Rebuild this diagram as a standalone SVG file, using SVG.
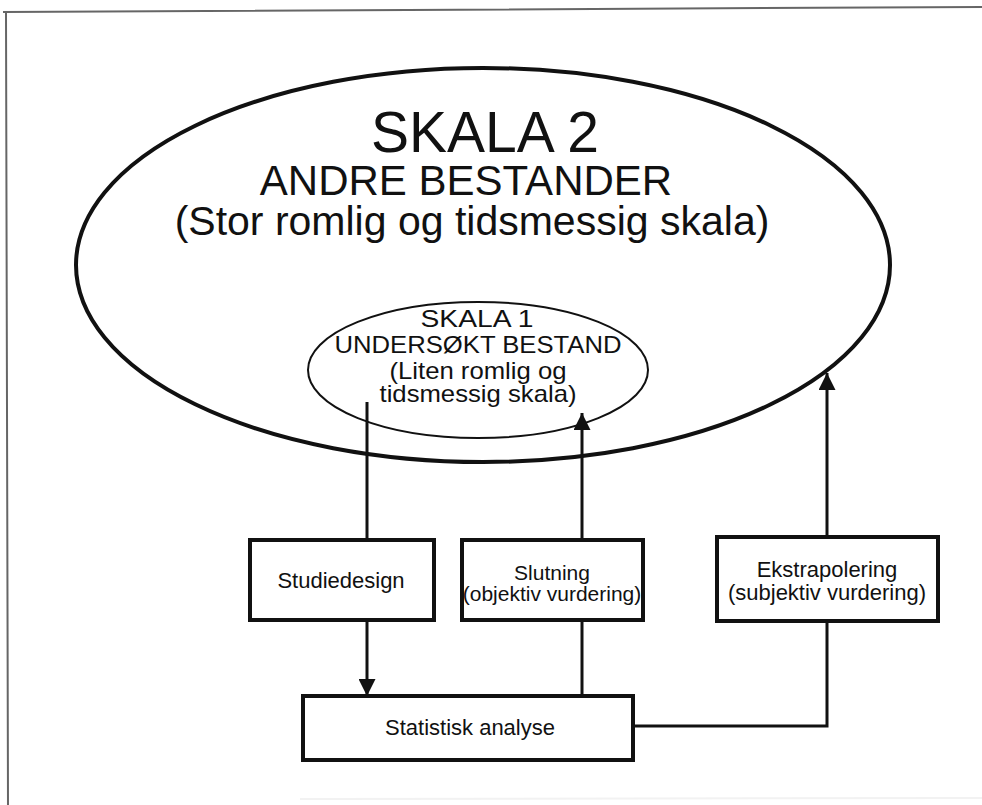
<svg xmlns="http://www.w3.org/2000/svg" width="982" height="805" viewBox="0 0 982 805">
<style>
text{font-family:"Liberation Sans",Arial,sans-serif;fill:#111;text-anchor:middle}
.box{fill:#fff;stroke:#111;stroke-width:4}
.ln{fill:none;stroke:#111;stroke-width:3}
.frame{fill:none;stroke:#666;stroke-width:2}
.s1{font-size:24px}
</style>
<defs>
<marker id="ah" viewBox="0 0 10 10" refX="10" refY="5" markerWidth="20" markerHeight="17" markerUnits="userSpaceOnUse" orient="auto">
<path d="M0,0 L10,5 L0,10 Z" fill="#111"/>
</marker>
</defs>
<rect width="982" height="805" fill="#fff"/>
<path class="frame" d="M3,12 L982,7 M6,12 L8,805"/>
<path d="M300,799 L982,798" stroke="#f2f2f2" stroke-width="2" fill="none"/>

<g id="skala2">
<ellipse cx="483" cy="265" rx="407" ry="197" fill="none" stroke="#111" stroke-width="4"/>
<text x="485" y="152" font-size="57">SKALA 2</text>
<text x="466" y="195" font-size="42">ANDRE BESTANDER</text>
<text x="472" y="235" font-size="41">(Stor romlig og tidsmessig skala)</text>
</g>

<g id="skala1">
<ellipse cx="478" cy="370" rx="170" ry="68" fill="none" stroke="#111" stroke-width="2"/>
<text class="s1" x="477" y="327" textLength="113" lengthAdjust="spacingAndGlyphs">SKALA 1</text>
<text class="s1" x="478" y="353" textLength="287" lengthAdjust="spacingAndGlyphs">UNDERSØKT BESTAND</text>
<text class="s1" x="478" y="379" textLength="177" lengthAdjust="spacingAndGlyphs">(Liten romlig og</text>
<text class="s1" x="478" y="402" textLength="197" lengthAdjust="spacingAndGlyphs">tidsmessig skala)</text>
</g>

<g id="connectors">
<line class="ln" x1="367" y1="402" x2="367" y2="540"/>
<line class="ln" x1="367" y1="620" x2="367" y2="696" marker-end="url(#ah)"/>
<line class="ln" x1="582" y1="696" x2="582" y2="620"/>
<line class="ln" x1="582" y1="540" x2="582" y2="413" marker-end="url(#ah)"/>
<polyline class="ln" points="633,726 827,726 827,621"/>
<line class="ln" x1="827" y1="537" x2="827" y2="373" marker-end="url(#ah)"/>
</g>

<g id="studiedesign">
<rect class="box" x="250" y="540" width="184" height="80"/>
<text x="341" y="588" font-size="22">Studiedesign</text>
</g>

<g id="slutning">
<rect class="box" x="462" y="540" width="181" height="80"/>
<text x="552" y="580" font-size="21">Slutning</text>
<text x="552" y="601" font-size="21">(objektiv vurdering)</text>
</g>

<g id="ekstrapolering">
<rect class="box" x="717" y="537" width="221" height="84"/>
<text x="827" y="577" font-size="22">Ekstrapolering</text>
<text x="827" y="600" font-size="22">(subjektiv vurdering)</text>
</g>

<g id="statistisk">
<rect class="box" x="303" y="696" width="330" height="64"/>
<text x="470" y="735" font-size="22">Statistisk analyse</text>
</g>
</svg>
